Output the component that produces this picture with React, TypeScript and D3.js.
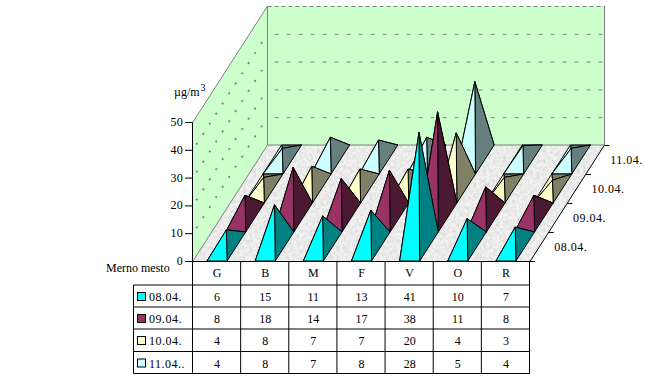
import React from "react";
import * as d3 from "d3";

const categories = ["G", "B", "M", "F", "V", "O", "R"];
const seriesNames = ["08.04.", "09.04.", "10.04.", "11.04."];
const legendNames = ["08.04.", "09.04.", "10.04.", "11.04.."];
const s0804 = [6, 15, 11, 13, 41, 10, 7];
const s0904 = [8, 18, 14, 17, 38, 11, 8];
const s1004 = [4, 8, 7, 7, 20, 4, 3];
const s1104 = [4, 8, 7, 8, 28, 5, 4];
const seriesValues = [s0804, s0904, s1004, s1104];
const lightColors = ["#00FFFF", "#993366", "#FFFFCC", "#CCFFFF"];
const darkColors = ["#008080", "#4C1933", "#808066", "#668080"];
const yTicks = [0, 10, 20, 30, 40, 50];

const FONT = "'Liberation Serif', 'Times New Roman', serif";
const x0 = 193, x1 = 530, yBase = 261, yTop = 122;
const depthDX = 74.5, depthDY = -116;

const xScale = d3.scaleBand<string>().domain(categories).range([x0, x1]);
const yScale = d3.scaleLinear().domain([0, 50]).range([yBase, yTop]);
const dScale = d3.scaleBand<string>().domain(seriesNames).range([0, 1]);

type Pt = [number, number];
const proj = (px: number, depth: number, lift = 0): Pt => [
  px + depth * depthDX,
  yBase + depth * depthDY - lift,
];
const pts = (a: Pt[]) => a.map((p) => p.join(",")).join(" ");
const HALF = 10;

const Pyramid = ({ cat, value, s }: { cat: string; value: number; s: number }) => {
  const cx = xScale(cat)! + xScale.bandwidth() / 2;
  const d0 = dScale(seriesNames[s])!;
  const d1 = d0 + dScale.bandwidth();
  const fl = proj(cx - HALF, d0);
  const fr = proj(cx + HALF, d0);
  const bl = proj(cx - HALF, d1);
  const br = proj(cx + HALF, d1);
  const apex = proj(cx, (d0 + d1) / 2, yBase - yScale(value));
  const st = { stroke: "#000", strokeWidth: 1, strokeLinejoin: "round" as const };
  return (
    <g>
      <polygon points={pts([bl, br, apex])} fill={darkColors[s]} {...st} />
      <polygon points={pts([fl, bl, apex])} fill={lightColors[s]} {...st} />
      <polygon points={pts([fr, br, apex])} fill={darkColors[s]} {...st} />
      <polygon points={pts([fl, fr, apex])} fill={lightColors[s]} {...st} />
    </g>
  );
};

const tableRows = [261.5, 285, 307, 329, 351.5, 373.5];
const bw = xScale.bandwidth();

export default function App() {
  const floor: Pt[] = [proj(x0, 0), proj(x1, 0), proj(x1, 1), proj(x0, 1)];
  const wallTopY = yTop + depthDY;
  const backX0 = x0 + depthDX, backX1 = x1 + depthDX;
  return (
    <svg
      width={645}
      height={377}
      viewBox="0 0 645 377"
      style={{ position: "absolute", left: 0, top: 0, background: "#fff" }}
      fontFamily={FONT}
      fontSize={12}
    >
      <defs>
        <filter id="marble" x="0" y="0" width="100%" height="100%" colorInterpolationFilters="sRGB">
          <feTurbulence type="fractalNoise" baseFrequency="0.3" numOctaves={3} seed={4} result="n" />
          <feColorMatrix
            in="n"
            type="matrix"
            values="0 0 0 0 0.6  0 0 0 0 0.6  0 0 0 0 0.6  0.55 0 0 0 -0.2"
            result="g"
          />
          <feComposite in="g" in2="SourceGraphic" operator="in" result="gi" />
          <feMerge>
            <feMergeNode in="SourceGraphic" />
            <feMergeNode in="gi" />
          </feMerge>
        </filter>
      </defs>

      {/* back wall */}
      <rect x={backX0} y={wallTopY} width={backX1 - backX0} height={yBase + depthDY - wallTopY} fill="#CCFFCC" />
      {/* side wall */}
      <polygon
        points={pts([[x0, yBase], [x0, yTop], [backX0, wallTopY], [backX0, yBase + depthDY]])}
        fill="#CCFFCC"
      />
      {/* floor */}
      <polygon points={pts(floor)} fill="#F2F2F2" filter="url(#marble)" />

      {/* gridlines */}
      {yTicks.slice(1, -1).map((t) => (
        <g key={t} stroke="#808080" fill="none">
          <line
            x1={backX0}
            x2={backX1}
            y1={yScale(t) + depthDY + 0.5}
            y2={yScale(t) + depthDY + 0.5}
            strokeDasharray="4 8"
            strokeDashoffset={-7}
          />
          <line
            x1={x0}
            y1={yScale(t)}
            x2={backX0}
            y2={yScale(t) + depthDY}
            strokeDasharray="2 10"
            strokeWidth={1.8}
            strokeDashoffset={-6}
          />
        </g>
      ))}
      <line x1={backX0} x2={backX1} y1={wallTopY + 0.5} y2={wallTopY + 0.5} stroke="#808080" strokeDasharray="4 3" />
      {/* wall edges */}
      <g stroke="#808080" fill="none">
        <line x1={x0} y1={yTop} x2={backX0} y2={wallTopY} />
        <line x1={backX0} y1={wallTopY} x2={backX0} y2={yBase + depthDY} />
        <line x1={backX1} y1={wallTopY} x2={backX1} y2={yBase + depthDY} />
        <line x1={x0} y1={yBase} x2={backX0} y2={yBase + depthDY} />
        <line x1={backX0} y1={yBase + depthDY} x2={backX1} y2={yBase + depthDY} />
      </g>

      {/* pyramids, back row first */}
      {[3, 2, 1, 0].map((s) =>
        categories.map((c, i) => <Pyramid key={`${s}-${c}`} cat={c} value={seriesValues[s][i]} s={s} />)
      )}

      {/* value axis */}
      <line x1={x0 - 0.5} x2={x0 - 0.5} y1={yTop} y2={yBase} stroke="#000" />
      {yTicks.map((t) => (
        <g key={t}>
          <line x1={x0 - 8} x2={x0} y1={yScale(t) + 0.5} y2={yScale(t) + 0.5} stroke="#000" />
          <text x={x0 - 10} y={yScale(t) + 4} textAnchor="end" letterSpacing={0.3}>
            {t}
          </text>
        </g>
      ))}
      <text x={174} y={96}>
        µg/m
        <tspan dx={1} dy={-5} fontSize={10}>
          3
        </tspan>
      </text>

      {/* depth axis */}
      <line x1={x1} y1={yBase + 0.5} x2={x1 + depthDX} y2={yBase + depthDY} stroke="#000" />
      {[...seriesNames, ""].map((_, k) => {
        const d = k / seriesNames.length;
        const [px, py] = proj(x1, d);
        return <line key={k} x1={px} x2={px + 5} y1={py + 0.5} y2={py + 0.5} stroke="#000" />;
      })}
      {seriesNames.map((n) => {
        const d = dScale(n)! + dScale.bandwidth() / 2;
        const [px, py] = proj(x1, d);
        return (
          <text key={n} x={px + 15} y={py + 4} letterSpacing={0.5}>
            {n}
          </text>
        );
      })}

      {/* data table */}
      <g stroke="#000" fill="none">
        {tableRows.map((y, i) => (
          <line key={y} x1={i === 0 ? x0 - 8 : 133.5} x2={i === 0 ? x1 + 5 : x1} y1={y} y2={y} />
        ))}
        {[...categories, ""].map((c, i) => (
          <line key={i} x1={x0 - 0.5 + i * bw} x2={x0 - 0.5 + i * bw} y1={261} y2={373.5} />
        ))}
        <line x1={133.5} x2={133.5} y1={285} y2={373.5} />
      </g>
      <text x={106} y={272}>
        Merno mesto
      </text>
      {categories.map((c) => (
        <text key={c} x={xScale(c)! + bw / 2} y={277} textAnchor="middle">
          {c}
        </text>
      ))}
      {legendNames.map((n, s) => (
        <g key={n}>
          <rect x={137.5} y={tableRows[s + 1] + 7.5} width={8} height={8} fill={lightColors[s]} stroke="#000" />
          <text x={149} y={tableRows[s + 1] + 16} letterSpacing={0.5}>
            {n}
          </text>
          {categories.map((c, i) => (
            <text key={c} x={xScale(c)! + bw / 2} y={tableRows[s + 1] + 16} textAnchor="middle">
              {seriesValues[s][i]}
            </text>
          ))}
        </g>
      ))}
    </svg>
  );
}
